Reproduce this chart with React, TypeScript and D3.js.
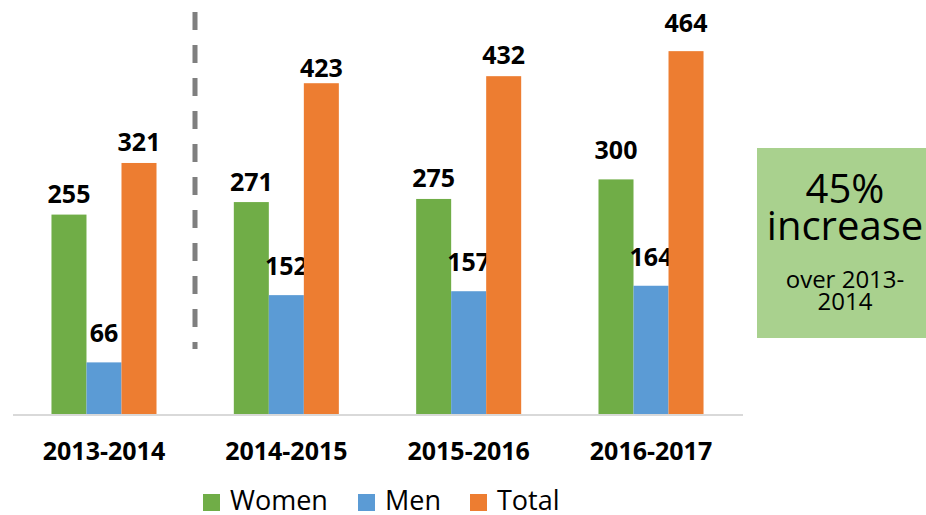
import React from "react";
import * as d3 from "d3";

const categories = ["2013-2014", "2014-2015", "2015-2016", "2016-2017"];
const seriesNames = ["Women", "Men", "Total"];
const women = [255, 271, 275, 300];
const men = [66, 152, 157, 164];
const total = [321, 423, 432, 464];
const seriesColors = ["#70ad47", "#5b9bd5", "#ed7d31"];
const calloutLines = ["45%", "increase", "over 2013-", "2014"];

// label gap above bar (layout tweaks, px)
const labelGap: number[][] = [
  [12, 11, 12, 20],
  [20, 20, 20, 20],
  [12, 6, 12, 19],
];

const W = 926;
const H = 515;
const FONT = "'Open Sans', 'Liberation Sans', sans-serif";

export default function App() {
  const values = [women, men, total];
  const x0 = d3
    .scaleBand<string>()
    .domain(categories)
    .range([13, 742])
    .paddingInner(0.424)
    .paddingOuter(0.211);
  const x1 = d3
    .scaleBand<string>()
    .domain(seriesNames)
    .range([0, x0.bandwidth()])
    .padding(0);
  const y = d3.scaleLinear().domain([0, 500]).range([414, 23]);

  const legendX = [203, 358, 470];

  return (
    <svg
      width={W}
      height={H}
      style={{ position: "absolute", left: 0, top: 0, display: "block", background: "#fff" }}
      fontFamily={FONT}
    >
      {/* dashed separator */}
      <line x1={195} x2={195} y1={12} y2={349} stroke="#7f7f7f" strokeWidth={5} strokeDasharray="18 15" />

      {/* bars */}
      {categories.map((c, ci) => (
        <g key={c} transform={`translate(${x0(c)},0)`}>
          {seriesNames.map((s, si) => {
            const v = values[si][ci];
            const bx = x1(s)!;
            const bw = x1.bandwidth();
            return (
              <g key={s}>
                <rect x={bx} y={y(v)} width={bw} height={y(0) - y(v)} fill={seriesColors[si]} />
                <text
                  x={bx + bw / 2}
                  y={y(v) - labelGap[si][ci]}
                  textAnchor="middle"
                  fontWeight="bold"
                  fontSize={25}
                  fill="#000"
                >
                  {v}
                </text>
              </g>
            );
          })}
        </g>
      ))}

      {/* axis line */}
      <line x1={13} x2={743} y1={415} y2={415} stroke="#d9d9d9" strokeWidth={2} />

      {/* category labels */}
      {categories.map((c) => (
        <text
          key={c}
          x={x0(c)! + x0.bandwidth() / 2}
          y={460}
          textAnchor="middle"
          fontWeight="bold"
          fontSize={25}
          fill="#000"
        >
          {c}
        </text>
      ))}

      {/* legend */}
      {seriesNames.map((s, i) => (
        <g key={s}>
          <rect x={legendX[i]} y={494} width={17} height={17} fill={seriesColors[i]} />
          <text x={legendX[i] + 27} y={510} fontSize={27} fill="#000">
            {s}
          </text>
        </g>
      ))}

      {/* callout box */}
      <rect x={757} y={148} width={180} height={190} fill="#a9d18e" />
      <text x={845} y={203} textAnchor="middle" fontSize={40} fill="#000">
        {calloutLines[0]}
      </text>
      <text x={845} y={240} textAnchor="middle" fontSize={40} fill="#000">
        {calloutLines[1]}
      </text>
      <text x={845} y={288} textAnchor="middle" fontSize={24} fill="#000">
        {calloutLines[2]}
      </text>
      <text x={845} y={310} textAnchor="middle" fontSize={24} fill="#000">
        {calloutLines[3]}
      </text>
    </svg>
  );
}
